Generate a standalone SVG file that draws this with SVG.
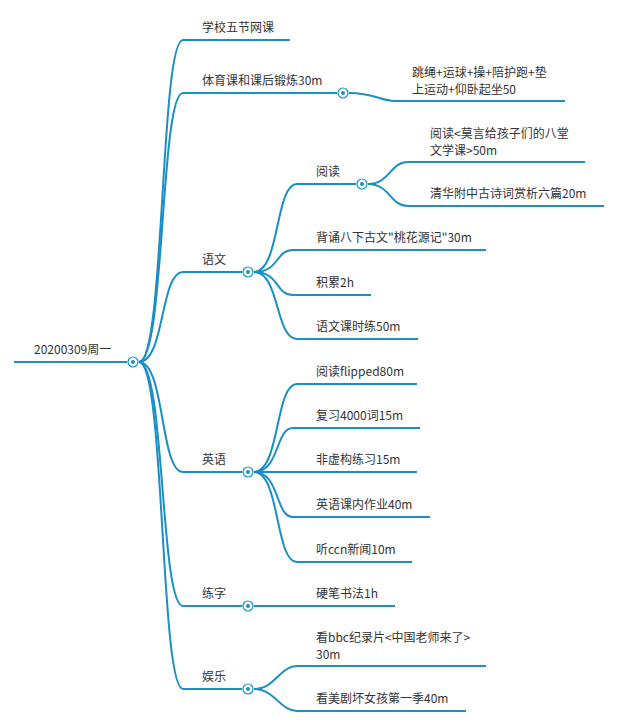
<svg xmlns="http://www.w3.org/2000/svg" width="628" height="726" viewBox="0 0 628 726">
<style>
.l{fill:none;stroke:#1a8fc4;stroke-width:2}
.c{fill:#fff;stroke:#1a8fc4;stroke-width:1.2}
.d{fill:#1a8fc4}
text{font-family:"Noto Sans CJK SC","Noto Sans",sans-serif;font-size:12px;fill:#333}
</style>
<rect width="628" height="726" fill="#fff"/>
<g id="connectors">
<path class="l" d="M14 362H127"/>
<path class="l" d="M139 362C165 362 160 40 183 40H290"/>
<path class="l" d="M139 362C165 362 160 93 183 93H337"/>
<path class="l" d="M349 93C375 93 380 101 395 101H565"/>
<path class="l" d="M139 362C165 362 160 272 183 272H242"/>
<path class="l" d="M139 362C165 362 160 472 183 472H242"/>
<path class="l" d="M139 362C165 362 160 606 183 606H242"/>
<path class="l" d="M139 362C165 362 160 689 183 689H242"/>
<path class="l" d="M254 272C280 272 275 184 297 184H356"/>
<path class="l" d="M254 272C280 272 275 250 293 250H486"/>
<path class="l" d="M254 272C280 272 275 295 293 295H371"/>
<path class="l" d="M254 272C280 272 275 339 297 339H418"/>
<path class="l" d="M368 184C390 184 390 162 408 162H585"/>
<path class="l" d="M368 184C390 184 390 206 408 206H604"/>
<path class="l" d="M254 472C280 472 275 384 297 384H417"/>
<path class="l" d="M254 472C280 472 275 428 293 428H420"/>
<path class="l" d="M254 472H417"/>
<path class="l" d="M254 472C280 472 275 517 293 517H430"/>
<path class="l" d="M254 472C280 472 275 562 297 562H412"/>
<path class="l" d="M254 606H395"/>
<path class="l" d="M254 689C275 689 280 666 297 666H486"/>
<path class="l" d="M254 689C275 689 280 711 297 711H466"/>
</g>
<g id="root"><text x="34" y="354">20200309周一</text><circle class="c" cx="133" cy="362" r="5"/><circle class="d" cx="133" cy="362" r="2"/></g>
<g id="n1"><text x="202" y="32">学校五节网课</text></g>
<g id="n2"><text x="202" y="85">体育课和课后锻炼30m</text><circle class="c" cx="343" cy="93" r="5"/><circle class="d" cx="343" cy="93" r="2"/></g>
<g id="n2a"><text x="412" y="77">跳绳+运球+操+陪护跑+垫</text><text x="412" y="94">上运动+仰卧起坐50</text></g>
<g id="n3"><text x="202" y="264">语文</text><circle class="c" cx="248" cy="272" r="5"/><circle class="d" cx="248" cy="272" r="2"/></g>
<g id="n3a"><text x="316" y="176">阅读</text><circle class="c" cx="362" cy="184" r="5"/><circle class="d" cx="362" cy="184" r="2"/></g>
<g id="n3a1"><text x="430" y="138">阅读&lt;莫言给孩子们的八堂</text><text x="430" y="155">文学课&gt;50m</text></g>
<g id="n3a2"><text x="430" y="198">清华附中古诗词赏析六篇20m</text></g>
<g id="n3b"><text x="316" y="242">背诵八下古文"桃花源记"30m</text></g>
<g id="n3c"><text x="316" y="287">积累2h</text></g>
<g id="n3d"><text x="316" y="331">语文课时练50m</text></g>
<g id="n4"><text x="202" y="464">英语</text><circle class="c" cx="248" cy="472" r="5"/><circle class="d" cx="248" cy="472" r="2"/></g>
<g id="n4a"><text x="316" y="376">阅读flipped80m</text></g>
<g id="n4b"><text x="316" y="420">复习4000词15m</text></g>
<g id="n4c"><text x="316" y="464">非虚构练习15m</text></g>
<g id="n4d"><text x="316" y="509">英语课内作业40m</text></g>
<g id="n4e"><text x="316" y="554">听ccn新闻10m</text></g>
<g id="n5"><text x="202" y="598">练字</text><circle class="c" cx="248" cy="606" r="5"/><circle class="d" cx="248" cy="606" r="2"/></g>
<g id="n5a"><text x="316" y="598">硬笔书法1h</text></g>
<g id="n6"><text x="202" y="681">娱乐</text><circle class="c" cx="248" cy="689" r="5"/><circle class="d" cx="248" cy="689" r="2"/></g>
<g id="n6a"><text x="316" y="642">看bbc纪录片&lt;中国老师来了&gt;</text><text x="316" y="659">30m</text></g>
<g id="n6b"><text x="316" y="703">看美剧坏女孩第一季40m</text></g>
</svg>
